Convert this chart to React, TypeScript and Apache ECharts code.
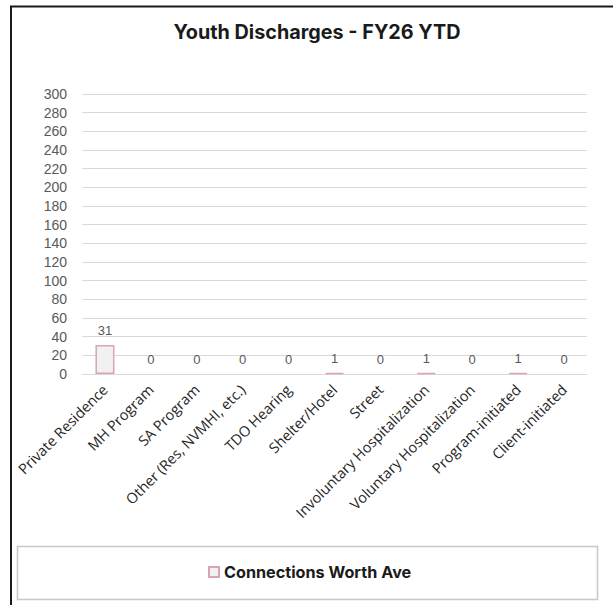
import React, { useEffect, useRef } from "react";
import * as echarts from "echarts";

const categories = [
  "Private Residence",
  "MH Program",
  "SA Program",
  "Other (Res, NVMHI, etc.)",
  "TDO Hearing",
  "Shelter/Hotel",
  "Street",
  "Involuntary Hospitalization",
  "Voluntary Hospitalization",
  "Program-initiated",
  "Client-initiated",
];
const values = [31, 0, 0, 0, 0, 1, 0, 1, 0, 1, 0];
const seriesName = "Connections Worth Ave";
const titleText = "Youth Discharges - FY26 YTD";

const barFill = "#f1f1f1";
const barBorder = "#d9a3b8";
const labelColor = "#595959";

export default function App() {
  const ref = useRef<HTMLDivElement>(null);
  useEffect(() => {
    const chart = echarts.init(ref.current!, null, { renderer: "svg" });
    chart.setOption({
      animation: false,
      backgroundColor: "#ffffff",
      title: {
        text: titleText,
        left: 312,
        textAlign: "center",
        top: 17,
        textStyle: {
          fontFamily: "Inter",
          fontWeight: "bold",
          fontSize: 19.8,
          color: "#1a1a1a",
        },
      },
      graphic: [
        {
          type: "rect",
          shape: { x: 11, y: 6.5, width: 800, height: 800 },
          style: { fill: "none", stroke: "#1a1a1a", lineWidth: 2 },
          silent: true,
        },
        {
          type: "rect",
          shape: { x: 17.5, y: 546.5, width: 580, height: 53 },
          style: { fill: "none", stroke: "#c8c8c8", lineWidth: 1.5 },
          silent: true,
        },
      ],
      legend: {
        left: 203,
        top: 559,
        icon: "rect",
        itemWidth: 10,
        itemHeight: 10,
        itemGap: 5,
        textStyle: {
          fontFamily: "Inter",
          fontWeight: "bold",
          fontSize: 16.2,
          color: "#1a1a1a",
        },
        data: [seriesName],
      },
      grid: {
        left: 82,
        right: 26,
        top: 94,
        bottom: 231,
        containLabel: false,
      },
      xAxis: {
        type: "category",
        data: categories,
        axisLine: { show: true, lineStyle: { color: "#d9d9d9", width: 1 } },
        axisTick: { show: false },
        axisLabel: {
          rotate: 45,
          interval: 0,
          margin: 13,
          fontFamily: "Open Sans",
          fontSize: 14.5,
          color: "#262626",
        },
      },
      yAxis: {
        type: "value",
        min: 0,
        max: 300,
        interval: 20,
        axisLine: { show: false },
        axisTick: { show: false },
        splitLine: { lineStyle: { color: "#d9d9d9", width: 1 } },
        axisLabel: {
          margin: 15,
          fontFamily: "Liberation Sans",
          fontSize: 14,
          color: labelColor,
        },
      },
      series: [
        {
          name: seriesName,
          type: "bar",
          data: values.map((v) =>
            v === 0
              ? {
                  value: v,
                  itemStyle: { color: barFill, borderColor: barBorder, borderWidth: 0 },
                  label: { color: labelColor },
                }
              : v
          ),
          barWidth: 19,
          itemStyle: {
            color: barFill,
            borderColor: barBorder,
            borderWidth: 1.5,
          },
          label: {
            show: true,
            position: "top",
            distance: 8,
            fontFamily: "Liberation Sans",
            fontSize: 13,
            color: labelColor,
          },
        },
      ],
    });
    return () => chart.dispose();
  }, []);
  return (
    <div
      ref={ref}
      style={{ position: "fixed", left: 0, top: 0, width: 613, height: 605 }}
    />
  );
}
